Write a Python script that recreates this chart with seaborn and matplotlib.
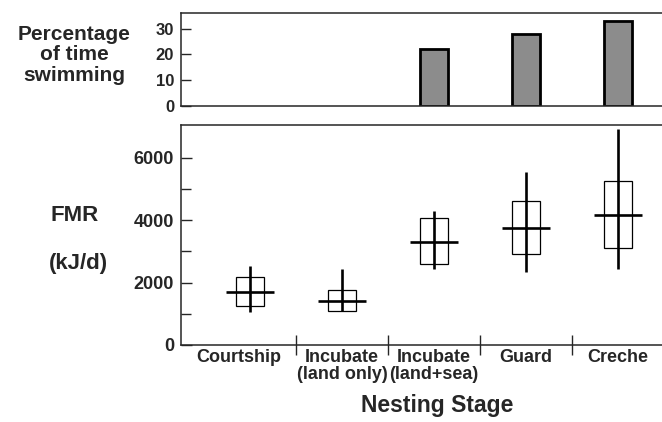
"""Field metabolic rate and time spent swimming across nesting stages."""

import numpy as np
import pandas as pd
import matplotlib
matplotlib.use('Agg')
import matplotlib.pyplot as plt
import seaborn as sns

# Nesting stages (x categories)
stages = ['Courtship', 'Incubate\n(land only)', 'Incubate\n(land+sea)',
          'Guard', 'Creche']

# Percentage of time swimming (top panel); no swimming in the first two
swim_pct = [np.nan, np.nan, 22, 28, 33]

# FMR (kJ/d): mean, box (mean +/- SD) and range (bottom panel)
fmr_mean = [1700, 1420, 3300, 3740, 4180]
fmr_box_low = [1260, 1080, 2580, 2930, 3110]
fmr_box_high = [2190, 1760, 4060, 4630, 5260]
fmr_min = [1060, 1080, 2440, 2350, 2450]
fmr_max = [2530, 2430, 4290, 5550, 6910]


def make_chart():
    sns.set_style('ticks')
    plt.rcParams['font.family'] = ['Liberation Sans', 'DejaVu Sans']
    plt.rcParams['font.weight'] = 'bold'

    fig = plt.figure(figsize=(6.62, 4.22), dpi=100)
    ax_top = fig.add_axes([0.2734, 0.7488, 0.7734, 0.2197])
    ax = fig.add_axes([0.2734, 0.1825, 0.7734, 0.5213])

    xlim = (-0.75, 4.815)

    # Top panel: time swimming
    swim_df = pd.DataFrame({'Stage': pd.Categorical(stages, categories=stages),
                            'Swim': swim_pct})
    sns.barplot(data=swim_df, x='Stage', y='Swim', order=stages,
                color='#8c8c8c', edgecolor='black', linewidth=2,
                width=0.3, saturation=1, ax=ax_top)
    ax_top.set_xlim(*xlim)
    ax_top.set_ylim(0, 36)
    ax_top.set_yticks([0, 10, 20, 30])
    ax_top.set_xticks([])
    ax_top.set_xlabel('')
    ax_top.set_ylabel('')
    ax_top.tick_params(axis='y', direction='in', length=7, width=1,
                       labelsize=12, pad=5)

    # Bottom panel: FMR
    pos = np.arange(len(stages))
    lows = np.array(fmr_box_low)
    highs = np.array(fmr_box_high)
    ax.bar(pos, highs - lows, bottom=lows, width=0.3, fill=False,
           edgecolor='black', linewidth=0.9)
    ax.vlines(pos, fmr_min, fmr_max, color='black', linewidth=1.9)
    ax.hlines(fmr_mean, pos - 0.265, pos + 0.265, color='black',
              linewidth=1.9)

    ax.set_xlim(*xlim)
    ax.set_ylim(0, 7050)
    ax.set_yticks([0, 2000, 4000, 6000])
    ax.set_yticks([1000, 3000, 5000], minor=True)
    ax.tick_params(axis='y', which='both', direction='in', width=1,
                   labelsize=13, pad=5)
    ax.tick_params(axis='y', which='major', length=8)
    ax.tick_params(axis='y', which='minor', length=7)

    # separators between stages as ticks, labels centred in each cell
    seps = pos[:-1] + 0.5
    edges = np.concatenate([[xlim[0]], seps, [xlim[1] - 0.33]])
    centers = (edges[:-1] + edges[1:]) / 2
    ax.set_xticks(seps)
    ax.set_xticklabels([])
    ax.tick_params(axis='x', which='major', direction='inout', length=14,
                   width=1)
    ax.set_xticks(centers, minor=True)
    ax.set_xticklabels(stages, minor=True, fontsize=13, linespacing=1.0)
    ax.tick_params(axis='x', which='minor', length=0, pad=3)

    ax.set_xlabel('Nesting Stage', fontsize=16.5, fontweight='bold',
                  labelpad=8)

    for a in (ax_top, ax):
        for side in ('left', 'bottom', 'top'):
            a.spines[side].set_visible(True)
            a.spines[side].set_linewidth(1.1)
        a.spines['right'].set_visible(False)

    fig.text(0.112, 0.87, 'Percentage\nof time\nswimming', ha='center',
             va='center', fontsize=15, fontweight='bold', linespacing=1.1)
    fig.text(0.112, 0.49, 'FMR', ha='center', va='center', fontsize=16,
             fontweight='bold')
    fig.text(0.118, 0.375, '(kJ/d)', ha='center', va='center', fontsize=16,
             fontweight='bold')

    fig.savefig('out.png', dpi=100)


if __name__ == '__main__':
    make_chart()
